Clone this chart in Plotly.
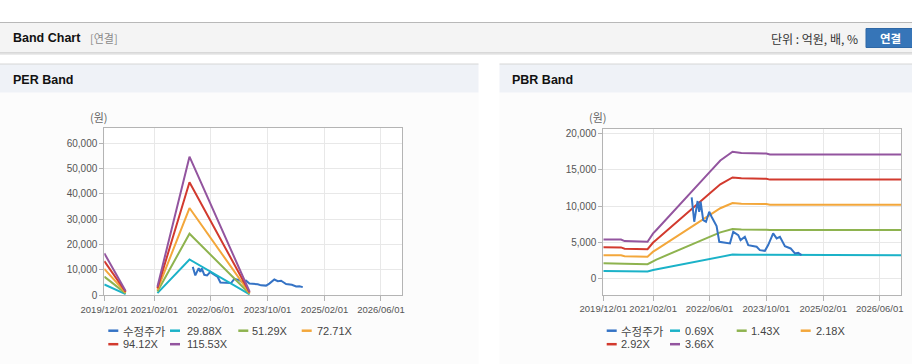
import plotly.graph_objects as go

W, H = 912, 364

# ---------------- data ----------------
tick_dates = ["2019-12-01", "2021-02-01", "2022-06-01", "2023-10-01", "2025-02-01", "2026-06-01"]
tick_labels = ["2019/12/01", "2021/02/01", "2022/06/01", "2023/10/01", "2025/02/01", "2026/06/01"]
x_range = ["2019-12-01", "2026-12-01"]

price_name = "수정주가"
price_dates = ["2021-12-29", "2022-01-20", "2022-02-18", "2022-03-04", "2022-03-16", "2022-04-07",
               "2022-05-01", "2022-05-29", "2022-06-18", "2022-07-31", "2022-08-23", "2022-11-23",
               "2022-12-21", "2023-02-02", "2023-02-22", "2023-03-31", "2023-04-29", "2023-07-10",
               "2023-08-07", "2023-09-19", "2023-10-17", "2023-11-29", "2023-12-29", "2024-01-26",
               "2024-03-09", "2024-04-27", "2024-06-03", "2024-07-01", "2024-07-30"]
price_values = [11200, 7840, 10700, 9220, 10600, 8070, 7840, 9220, 8530, 7240, 5070, 4850,
                6450, 6000, 5300, 5760, 4610, 4380, 3920, 3820, 4610, 6230, 5540, 5760,
                4470, 4150, 3460, 3550, 3230]

# PER band
per_names = ["29.88X", "51.29X", "72.71X", "94.12X", "115.53X"]
per_dates = ["2019-12-01", "2020-06-01", "2020-10-01", "2021-03-01", "2021-12-01", "2023-05-01"]
per_band_1 = [4288, 448, None, 878, 14148, 359]
per_band_2 = [7360, 769, None, 1508, 24286, 615]
per_band_3 = [10434, 1091, None, 2138, 34428, 873]
per_band_4 = [13506, 1412, None, 2767, 44566, 1129]
per_band_5 = [16580, 1730, None, 3400, 54700, 1390]
per_y_ticks = [0, 10000, 20000, 30000, 40000, 50000, 60000]

# PBR band
pbr_names = ["0.69X", "1.43X", "2.18X", "2.92X", "3.66X"]
pbr_dates = ["2019-12-01", "2020-05-01", "2020-06-01", "2020-12-15", "2021-02-01", "2021-03-01",
             "2022-06-01", "2022-09-01", "2022-12-15", "2023-03-01", "2023-10-01", "2023-11-01",
             "2026-12-01"]
pbr_band_1 = [1018, 1014, 975, 956, 1175, 1263, 2771, 3073, 3299, 3271, 3252, 3228, 3228]
pbr_band_2 = [2110, 2102, 2020, 1981, 2434, 2618, 5743, 6369, 6837, 6779, 6740, 6689, 6689]
pbr_band_3 = [3216, 3205, 3079, 3020, 3711, 3991, 8756, 9709, 10423, 10334, 10275, 10197, 10197]
pbr_band_4 = [4308, 4292, 4125, 4045, 4970, 5345, 11728, 13005, 13962, 13842, 13762, 13659, 13659]
pbr_band_5 = [5400, 5380, 5170, 5070, 6230, 6700, 14700, 16300, 17500, 17350, 17250, 17120, 17120]
pbr_y_ticks = [0, 5000, 10000, 15000, 20000]

price_color = "#3573c5"
band_colors = ["#1bb2c8", "#8eb34f", "#f3a73b", "#d23a2e", "#93559f"]

# ---------------- helpers ----------------
def px(x):
    return x / W

def py(y):
    return 1 - y / H

LATIN = "Liberation Sans, Noto Sans CJK KR, sans-serif"
KOR = "Noto Sans CJK KR, Liberation Sans, sans-serif"

fig = go.Figure()

# PER traces
fig.add_trace(go.Scatter(x=price_dates, y=price_values, mode="lines", name=price_name,
                         line=dict(color=price_color, width=2), xaxis="x", yaxis="y",
                         showlegend=False))
for vals, nm, col in zip([per_band_1, per_band_2, per_band_3, per_band_4, per_band_5],
                         per_names, band_colors):
    fig.add_trace(go.Scatter(x=per_dates, y=vals, mode="lines", name=nm, connectgaps=False,
                             line=dict(color=col, width=2), xaxis="x", yaxis="y",
                             showlegend=False))

# PBR traces
for vals, nm, col in zip([pbr_band_1, pbr_band_2, pbr_band_3, pbr_band_4, pbr_band_5],
                         pbr_names, band_colors):
    fig.add_trace(go.Scatter(x=pbr_dates, y=vals, mode="lines", name=nm,
                             line=dict(color=col, width=2), xaxis="x2", yaxis="y2",
                             showlegend=False))
fig.add_trace(go.Scatter(x=price_dates, y=price_values, mode="lines", name=price_name,
                         line=dict(color=price_color, width=2), xaxis="x2", yaxis="y2",
                         showlegend=False))

axis_common = dict(showline=True, linecolor="#b4b4b4", linewidth=1, mirror=True,
                   showgrid=True, gridcolor="#e8e8e8", gridwidth=1, zeroline=False,
                   ticks="outside", tickcolor="#b4b4b4", automargin=False,
                   tickfont=dict(family=LATIN, size=9.5, color="#555555"))

xcommon = dict(axis_common, type="date", range=x_range, tickvals=tick_dates,
               ticktext=tick_labels, ticklen=5, tickangle=0)

fig.update_layout(
    width=W, height=H, margin=dict(l=0, r=0, t=0, b=0, autoexpand=False),
    paper_bgcolor="#ffffff", plot_bgcolor="#ffffff",
    showlegend=False,
    xaxis=dict(xcommon, domain=[px(104.3), px(402.3)], anchor="y"),
    yaxis=dict(axis_common, domain=[py(295.3), py(128)], range=[0, 66000],
               tickvals=per_y_ticks, tickformat=",", ticklen=4, anchor="x",
               tickfont=dict(family=LATIN, size=10, color="#555555")),
    xaxis2=dict(xcommon, domain=[px(603.3), px(901)], anchor="y2"),
    yaxis2=dict(axis_common, domain=[py(295), py(129)], range=[-2280, 20650],
                tickvals=pbr_y_ticks, tickformat=",", ticklen=4, anchor="x2",
                tickfont=dict(family=LATIN, size=10, color="#555555")),
)

shapes = []
# header bar
shapes.append(dict(type="rect", xref="paper", yref="paper", x0=0, x1=1, y0=py(53), y1=py(22),
                   fillcolor="#f4f4f4", line=dict(width=0), layer="below"))
shapes.append(dict(type="line", xref="paper", yref="paper", x0=0, x1=1, y0=py(22.5), y1=py(22.5),
                   line=dict(color="#b8b8b8", width=1), layer="below"))
shapes.append(dict(type="line", xref="paper", yref="paper", x0=0, x1=1, y0=py(53), y1=py(53),
                   line=dict(color="#bdbdbd", width=1), layer="below"))
shapes.append(dict(type="line", xref="paper", yref="paper", x0=0, x1=1, y0=py(54.2), y1=py(54.2),
                   line=dict(color="#e4e4e4", width=1.2), layer="below"))
# button
shapes.append(dict(type="rect", xref="paper", yref="paper", x0=px(866), x1=px(915), y0=py(47.5), y1=py(28.5),
                   fillcolor="#3675b8", line=dict(color="#2f68a6", width=1), layer="below"))
# panels
for x0, x1 in [(0, 478.5), (499.5, 912)]:
    shapes.append(dict(type="rect", xref="paper", yref="paper", x0=px(x0), x1=px(x1), y0=0, y1=py(92.5),
                       fillcolor="#fcfcfc", line=dict(width=0), layer="below"))
    shapes.append(dict(type="rect", xref="paper", yref="paper", x0=px(x0), x1=px(x1), y0=py(92.5), y1=py(64),
                       fillcolor="#eff2f7", line=dict(width=0), layer="below"))
    shapes.append(dict(type="line", xref="paper", yref="paper", x0=px(x0), x1=px(x1), y0=py(64), y1=py(64),
                       line=dict(color="#d6d6d6", width=1), layer="below"))
# plot area white
shapes.append(dict(type="rect", xref="paper", yref="paper", x0=px(104.3), x1=px(402.3), y0=py(295.3), y1=py(128),
                   fillcolor="#ffffff", line=dict(width=0), layer="below"))
shapes.append(dict(type="rect", xref="paper", yref="paper", x0=px(603.3), x1=px(901), y0=py(295), y1=py(129),
                   fillcolor="#ffffff", line=dict(width=0), layer="below"))

annotations = []
def text(x, y, s, size=11, color="#333", bold=False, anchor="left", family=LATIN):
    annotations.append(dict(x=px(x), y=py(y), xref="paper", yref="paper", text=("<b>%s</b>" % s) if bold else s,
                            showarrow=False, xanchor=anchor, yanchor="middle",
                            font=dict(family=family, size=size, color=color)))

text(10.5, 38, "Band Chart", size=12.5, color="#111", bold=True)
text(87.5, 38, "[연결]", size=11, color="#8a8a8a", family=KOR)
text(860, 39, "단위 : 억원, 배, %", size=12, color="#333", anchor="right", family=KOR)
text(890.5, 38.5, "연결", size=11.5, color="#ffffff", bold=True, anchor="center", family=KOR)
text(10.5, 80, "PER Band", size=12.5, color="#111", bold=True)
text(509.5, 80, "PBR Band", size=12.5, color="#111", bold=True)
text(99, 117, "(원)", size=11, color="#666", anchor="center", family=KOR)
text(598, 117, "(원)", size=11, color="#666", anchor="center", family=KOR)

# manual legends
def legend(items, colors, positions):
    for (nm, col, (lx, ly, tx)) in zip(items, colors, positions):
        shapes.append(dict(type="line", xref="paper", yref="paper", x0=px(lx), x1=px(lx + 10),
                           y0=py(ly), y1=py(ly), line=dict(color=col, width=2.5)))
        text(tx, ly, nm, size=11.5 if nm == price_name else 11, color="#444",
             family=KOR if nm == price_name else LATIN)

per_legend_pos = [(108.3, 330.7, 120.5), (170, 330.7, 184.5), (238.3, 330.7, 249.5),
                  (301.7, 330.7, 314.5), (108.3, 344.2, 120.5), (170, 344.2, 184.5)]
pbr_legend_pos = [(606.7, 330.7, 619), (670, 330.7, 683), (736.7, 330.7, 749),
                  (800.7, 330.7, 813.5), (606.7, 344.2, 619), (670, 344.2, 683)]
legend([price_name] + per_names, [price_color] + band_colors, per_legend_pos)
legend([price_name] + pbr_names, [price_color] + band_colors, pbr_legend_pos)

fig.update_layout(shapes=shapes, annotations=annotations)
fig.write_html("out.html", config={"displayModeBar": False},
               post_script="document.body.style.margin='0px';document.body.style.overflow='hidden';")
